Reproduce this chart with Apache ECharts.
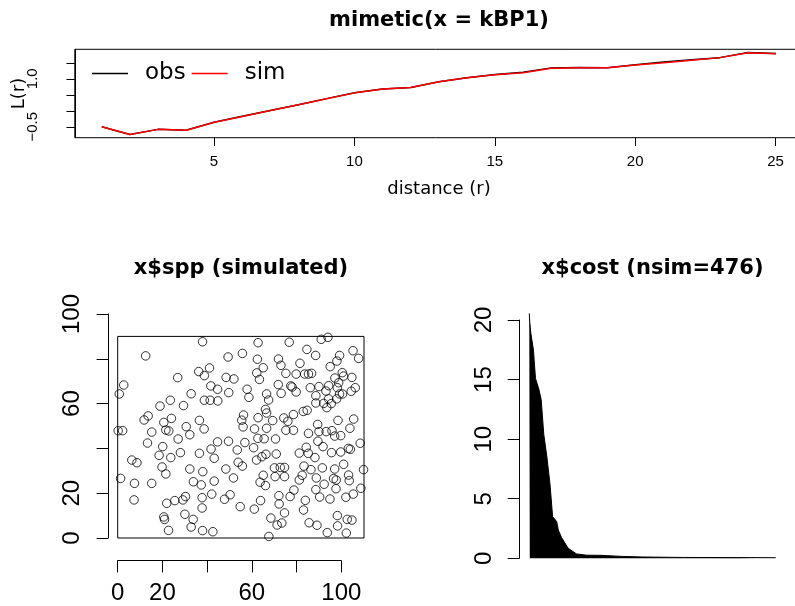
<!DOCTYPE html>
<html>
<head>
<meta charset="utf-8">
<script src="https://cdn.jsdelivr.net/npm/echarts@6/dist/echarts.min.js"></script>
<style>
  html, body { margin: 0; padding: 0; background: #fff; }
  #main { width: 795px; height: 606px; }
</style>
</head>
<body>
<div id="main"></div>
<script>
// top panel: L(r) obs vs sim
var distR = [1, 2, 3, 4, 5, 6, 7, 8, 9, 10, 11, 12, 13, 14, 15, 16, 17, 18, 19, 20, 21, 22, 23, 24, 25];
var obsL = [-0.5, -0.74, -0.58, -0.61, -0.36, -0.17, 0.01, 0.19, 0.38, 0.56, 0.68, 0.73, 0.91, 1.03, 1.13, 1.2, 1.34, 1.35, 1.345, 1.44, 1.52, 1.59, 1.66, 1.82, 1.79];
var simL = [-0.5, -0.74, -0.58, -0.61, -0.36, -0.175, 0.01, 0.19, 0.375, 0.56, 0.68, 0.73, 0.91, 1.03, 1.125, 1.19, 1.325, 1.345, 1.345, 1.43, 1.5, 1.58, 1.66, 1.81, 1.78];
var lTicks = [-0.5, 0, 0.5, 1, 1.5];
var lLabels = [-0.5, 1];

// bottom left: simulated pattern
var sppX = [37.9, 62.7, 76.6, 90.9, 93.9, 12.5, 55.7, 49.3, 62.4, 71.8, 84.5, 88.4, 99.1, 105.1, 107.6, 97.9,
  36.2, 38.7, 41.0, 65.0, 62.1, 63.3, 72.9, 75.1, 79.7, 81.4, 83.5, 85.2, 86.6, 94.9, 97.0, 100.3, 100.9, 104.6,
  26.8, 48.4, 51.9, 2.7, 0.7, 32.8, 41.6, 44.6, 57.8, 58.6, 49.6, 38.7, 41.3, 44.7, 71.7, 73.0, 77.3, 77.9, 79.7,
  86.0, 88.5, 89.9, 94.2, 98.7, 98.1, 99.1, 106.1, 104.3, 93.0, 94.2, 97.8, 100.4, 18.9, 23.5, 29.4, 88.5, 92.0,
  93.4, 95.4, 66.5, 67.4, 66.0, 66.5, 56.2, 56.0, 62.7, 69.2, 74.2, 76.0, 78.5, 82.9, 84.6, 11.8, 13.6, 20.6,
  24.0, 21.5, 22.8, 30.6, 36.5, 38.6, 55.4, 61.1, 66.5, 62.6, 65.4, 75.1, 78.5, 85.2, 89.3, 89.9, 93.1, 95.7,
  96.9, 98.4, 99.6, 103.7, 105.4,
  0.2, 2.2, 15.2, 13.3, 27.0, 32.2, 44.6, 49.5, 56.8, 60.7, 70.5, 89.4, 103.9, 108.3, 23.7, 28.0, 36.5, 41.7,
  43.1, 53.4, 53.8, 55.7, 62.0, 64.4, 66.2, 70.8, 81.1, 84.2, 85.1, 88.1, 91.7, 95.5, 99.6, 103.0, 6.3, 8.6,
  18.5, 20.1, 19.8, 21.5, 32.2, 38.0, 48.3, 51.7, 65.0, 63.6, 66.0, 70.0, 72.6, 74.5, 74.5, 70.3, 81.1, 82.4,
  83.2, 86.3, 91.4, 96.9, 100.9, 103.1, 109.8, 88.7, 97.6, 103.4, 1.3, 7.5, 15.2, 33.8, 37.3, 43.1,
  7.3, 21.9, 25.5, 29.1, 30.3, 37.7, 37.7, 42.0, 47.7, 50.2, 54.7, 61.0, 63.8, 72.0, 72.1, 74.5, 77.0, 78.7,
  83.0, 83.8, 88.5, 90.2, 92.2, 94.8, 97.5, 101.9, 105.2, 108.6, 20.6, 20.9, 30.0, 33.7, 22.7, 32.8, 37.9,
  42.5, 68.4, 71.2, 73.3, 85.5, 89.0, 93.6, 98.1, 98.2, 102.1, 102.5, 104.6, 67.5, 96.4];
var sppY = [87.6, 87.2, 87.4, 88.7, 89.6, 81.3, 82.4, 80.8, 79.8, 79.9, 84.2, 81.5, 81.5, 83.6, 80.2, 79.0,
  74.3, 72.5, 75.9, 76.0, 73.7, 70.8, 77.1, 73.5, 73.2, 78.0, 73.2, 73.2, 73.5, 76.5, 71.4, 73.8, 72.3, 71.7,
  71.6, 71.7, 71.0, 68.3, 64.3, 64.4, 67.9, 66.4, 66.4, 62.8, 64.9, 61.5, 61.5, 61.2, 68.5, 64.6, 67.9, 67.4, 65.2,
  67.1, 63.5, 67.6, 68.0, 69.3, 67.1, 64.3, 67.1, 65.5, 65.6, 62.1, 62.1, 64.3, 58.9, 61.5, 59.1, 60.3, 60.1,
  58.2, 60.0, 64.3, 61.6, 57.4, 55.8, 54.9, 49.6, 53.7, 52.4, 53.6, 52.1, 55.1, 56.5, 57.0, 52.7, 54.5, 51.6,
  53.4, 48.2, 47.8, 49.7, 52.5, 48.7, 52.6, 48.7, 49.0, 44.5, 44.3, 48.1, 48.1, 46.7, 50.7, 47.5, 47.5, 47.9,
  45.5, 52.5, 45.7, 49.0, 53.1,
  47.9, 47.9, 47.3, 42.4, 44.2, 46.1, 42.9, 43.2, 42.6, 40.3, 44.2, 43.2, 39.6, 42.3, 35.9, 38.1, 37.8, 39.7,
  35.6, 39.3, 33.8, 32.1, 34.8, 36.3, 37.4, 37.5, 37.9, 40.5, 37.8, 35.9, 40.8, 38.1, 38.4, 40.0, 34.8, 33.6,
  36.9, 40.8, 31.7, 28.6, 30.8, 29.6, 30.8, 26.8, 28.0, 24.9, 23.4, 31.3, 31.5, 31.5, 27.4, 27.4, 25.9, 28.0,
  32.1, 30.5, 31.3, 30.8, 32.9, 28.1, 30.5, 26.8, 25.9, 25.6, 26.6, 24.4, 24.4, 25.1, 23.7, 25.4,
  17.0, 15.5, 16.7, 17.0, 18.5, 18.0, 13.4, 19.6, 17.3, 19.3, 14.0, 12.9, 16.7, 18.9, 15.2, 11.2, 18.5, 21.4,
  12.5, 16.8, 21.6, 18.3, 24.0, 17.4, 22.0, 18.2, 19.6, 22.2, 9.4, 8.3, 10.6, 8.3, 3.4, 4.9, 3.3,
  2.8, 8.9, 5.8, 6.7, 6.8, 5.7, 2.4, 10.0, 5.4, 2.2, 8.3, 8.0, 0.7, 26.5];
var winX = [0, 110, 110, 0, 0];
var winY = [0, 0, 90, 90, 0];
var sppLabels = [0, 20, 60, 100];

// bottom right: cost trace
var costIdx = [1, 2, 4, 9, 13, 18, 20, 24, 29, 35, 41, 46, 54, 57, 63, 76, 92, 112, 137, 180, 220, 300, 400, 476];
var costVal = [20.55, 19.8, 18.9, 17.5, 15.1, 14.4, 14.1, 13.3, 10.4, 8.5, 6.2, 3.5, 3.07, 2.37, 1.76, 0.84, 0.37, 0.26, 0.25, 0.16, 0.11, 0.07, 0.06, 0.05];

var tickFont = 'Liberation Sans';
var textFont = 'DejaVu Sans';

var chart = echarts.init(document.getElementById('main'), null, { renderer: 'canvas' });

function zip(a, b) {
  return a.map(function (v, i) { return [v, b[i]]; });
}

chart.setOption({
  animation: false,
  backgroundColor: '#fff',
  legend: {
    data: ['obs', 'sim'],
    left: 92,
    top: 62,
    padding: 0,
    itemGap: 6,
    itemWidth: 36,
    itemHeight: 1.5,
    icon: 'rect',
    textStyle: { fontSize: 23, fontFamily: textFont, color: '#000', padding: [0, 0, 0, 12] }
  },
  graphic: [
    { type: 'text', x: 439, y: 21, style: { text: 'mimetic(x = kBP1)', font: 'bold 21px "DejaVu Sans"', fill: '#000', textAlign: 'center', textVerticalAlign: 'middle' } },
    { type: 'text', x: 19, y: 93.5, rotation: Math.PI / 2, style: { text: 'L(r)', font: '18px "DejaVu Sans"', fill: '#000', textAlign: 'center', textVerticalAlign: 'middle' } },
    { type: 'text', x: 439, y: 189, style: { text: 'distance (r)', font: '18px "DejaVu Sans"', fill: '#000', textAlign: 'center', textVerticalAlign: 'middle' } },
    { type: 'text', x: 241, y: 269, style: { text: 'x$spp (simulated)', font: 'bold 21px "DejaVu Sans"', fill: '#000', textAlign: 'center', textVerticalAlign: 'middle' } },
    { type: 'text', x: 652.5, y: 269, style: { text: 'x$cost (nsim=476)', font: 'bold 21px "DejaVu Sans"', fill: '#000', textAlign: 'center', textVerticalAlign: 'middle' } }
  ],
  grid: [
    { left: 74.8, top: 49.3, width: 728.2, height: 88.4, show: true, borderColor: '#000', borderWidth: 1, backgroundColor: 'transparent', outerBoundsMode: 'none' },
    { left: 117.7, top: 314, width: 246.3, height: 224, outerBoundsMode: 'none' },
    { left: 117.7, top: 314, width: 223.6, height: 224, outerBoundsMode: 'none' },
    { left: 519.4, top: 320, width: 266.2, height: 238.3, outerBoundsMode: 'none' },
    // label strip for r = 5..25, axis pushed down onto the box bottom
    { left: 214.0, top: 49.3, width: 561.5, height: 40, outerBoundsMode: 'none' },
    // tick strip just under the top box: split lines act as the tick marks
    { left: 214.0, top: 137.7, width: 561.5, height: 8.3, outerBoundsMode: 'none' }
  ],
  xAxis: [
    { gridIndex: 0, type: 'value', min: 0.04, max: 25.96, show: false },
    { gridIndex: 1, type: 'value', min: 0, max: 110, show: false },
    {
      gridIndex: 2, type: 'value', min: 0, max: 100, interval: 20, position: 'bottom', offset: 22.7,
      axisLine: { show: true, onZero: false, lineStyle: { color: '#000', width: 1 } },
      axisTick: { show: true, length: 11.7, lineStyle: { color: '#000' } },
      axisLabel: {
        margin: 21, fontSize: 24, fontFamily: tickFont, color: '#000',
        showMinLabel: true, showMaxLabel: true, hideOverlap: false,
        formatter: function (v) { return sppLabels.indexOf(v) >= 0 ? String(v) : ''; }
      },
      splitLine: { show: false }
    },
    { gridIndex: 3, type: 'value', min: -18, max: 495, show: false },
    {
      gridIndex: 4, type: 'value', min: 5, max: 25, interval: 5, position: 'bottom', offset: 48.4,
      axisLine: { show: false, onZero: false },
      axisTick: { show: false },
      axisLabel: { margin: 16.5, fontSize: 15, fontFamily: tickFont, color: '#000', showMinLabel: true, showMaxLabel: true },
      splitLine: { show: false }
    },
    {
      gridIndex: 5, type: 'value', min: 5, max: 25, interval: 5, position: 'bottom',
      axisLine: { show: false, onZero: false },
      axisTick: { show: false },
      axisLabel: { show: false },
      splitLine: { show: true, showMinLine: true, showMaxLine: true, lineStyle: { color: '#000', width: 1, type: 'solid' } }
    }
  ],
  yAxis: [
    {
      gridIndex: 0, type: 'value', min: -0.84, max: 1.92, position: 'left',
      axisLine: { show: true, onZero: false, lineStyle: { color: '#000', width: 1 } },
      axisTick: { show: true, customValues: lTicks, length: 8.3, lineStyle: { color: '#000', width: 1 } },
      axisLabel: {
        customValues: lLabels, rotate: 90, margin: 34, fontSize: 15, fontFamily: tickFont, color: '#000',
        formatter: function (v) { return v < 0 ? '\u2212' + Math.abs(v).toFixed(1) : v.toFixed(1); }
      },
      splitLine: { show: false }
    },
    {
      gridIndex: 1, type: 'value', min: 0, max: 100, interval: 20, offset: 9.4,
      axisLine: { show: true, onZero: false, lineStyle: { color: '#000', width: 1 } },
      axisTick: { show: true, length: 11.7, lineStyle: { color: '#000' } },
      axisLabel: {
        rotate: 90, margin: 24, fontSize: 24, fontFamily: tickFont, color: '#000',
        showMinLabel: true, showMaxLabel: true, hideOverlap: false,
        formatter: function (v) { return sppLabels.indexOf(v) >= 0 ? String(v) : ''; }
      },
      splitLine: { show: false }
    },
    { gridIndex: 2, type: 'value', min: 0, max: 100, show: false },
    {
      gridIndex: 3, type: 'value', min: 0, max: 20, interval: 5,
      axisLine: { show: true, onZero: false, lineStyle: { color: '#000', width: 1 } },
      axisTick: { show: true, length: 11.7, lineStyle: { color: '#000' } },
      axisLabel: { rotate: 90, margin: 23, fontSize: 24, fontFamily: tickFont, color: '#000', showMinLabel: true, showMaxLabel: true },
      splitLine: { show: false }
    },
    { gridIndex: 4, type: 'value', min: 0, max: 1, show: false },
    { gridIndex: 5, type: 'value', min: 0, max: 1, show: false, splitLine: { show: false } }
  ],
  series: [
    {
      name: 'obs', type: 'line', xAxisIndex: 0, yAxisIndex: 0, data: zip(distR, obsL),
      symbol: 'none', showSymbol: false, color: '#000', lineStyle: { color: '#000', width: 1.5 }, z: 3
    },
    {
      name: 'sim', type: 'line', xAxisIndex: 0, yAxisIndex: 0, data: zip(distR, simL),
      symbol: 'none', showSymbol: false, color: '#ff0000', lineStyle: { color: '#ff0000', width: 1.5 }, z: 4
    },
    {
      name: 'window', type: 'line', xAxisIndex: 1, yAxisIndex: 1, data: zip(winX, winY),
      symbol: 'none', lineStyle: { color: '#000', width: 1 }, clip: false
    },
    {
      name: 'spp', type: 'scatter', xAxisIndex: 1, yAxisIndex: 1, data: zip(sppX, sppY),
      symbol: 'circle', symbolSize: 8.5, clip: false,
      itemStyle: { color: 'rgba(0,0,0,0)', borderColor: '#000', borderWidth: 1 }
    },
    {
      name: 'cost', type: 'line', xAxisIndex: 3, yAxisIndex: 3, data: zip(costIdx, costVal),
      symbol: 'none', clip: false,
      lineStyle: { color: '#000', width: 1 },
      areaStyle: { color: '#000', opacity: 1 }
    }
  ]
});

window.addEventListener('resize', function () {
  chart.resize();
});
</script>
</body>
</html>
